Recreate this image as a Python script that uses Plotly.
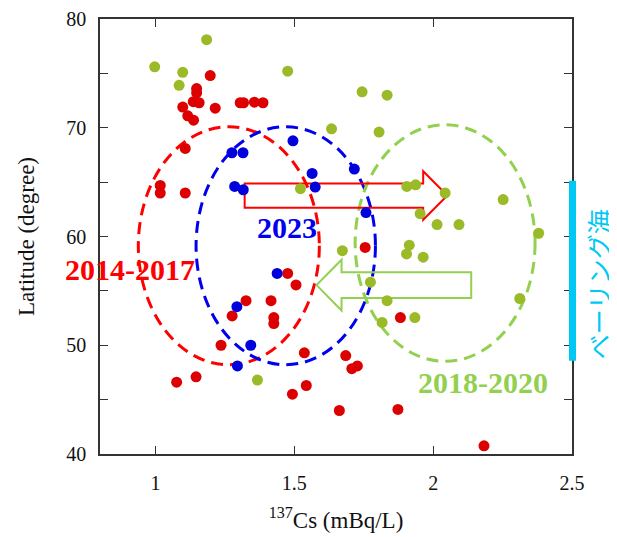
import plotly.graph_objects as go

# ---- data ----
red_x = [1.197, 1.148, 1.148, 1.136, 1.157, 1.098, 1.116, 1.137, 1.215, 1.305, 1.317, 1.356, 1.387,
         1.107, 1.017, 1.017, 1.107, 1.476, 1.506, 1.326, 1.416, 1.276, 1.426, 1.426, 1.236, 1.536,
         1.076, 1.146, 1.493, 1.543, 1.662, 1.755, 1.882, 1.685, 1.707, 1.727, 1.873, 2.183]
red_y = [74.8, 73.6, 73.2, 72.4, 72.3, 71.9, 71.1, 70.7, 71.8, 72.3, 72.3, 72.35, 72.3,
         68.1, 64.7, 64.0, 64.0, 56.6, 55.55, 54.1, 54.1, 52.7, 52.55, 52.0, 50.0, 49.3,
         46.6, 47.1, 45.5, 46.3, 44.0, 59.0, 52.55, 49.05, 47.85, 48.1, 44.1, 40.75]

blue_x = [1.495, 1.275, 1.315, 1.564, 1.285, 1.316, 1.575, 1.716, 1.758, 1.438, 1.293, 1.343, 1.295]
blue_y = [68.8, 67.7, 67.7, 65.8, 64.6, 64.3, 64.55, 66.2, 62.2, 56.6, 53.55, 50.0, 48.1]

green_x = [0.997, 1.184, 1.098, 1.085, 1.476, 1.634, 1.522, 1.744, 1.834, 1.805, 1.905, 1.937,
           2.043, 2.252, 1.953, 2.014, 2.093, 2.38, 1.673, 1.914, 1.904, 1.964, 1.774, 1.834,
           2.312, 1.816, 1.934, 1.367]
green_y = [75.6, 78.1, 75.1, 73.9, 75.2, 69.9, 64.4, 73.3, 73.0, 69.6, 64.6, 64.75,
           64.0, 63.4, 62.1, 61.1, 61.1, 60.3, 58.7, 59.2, 58.4, 58.1, 55.8, 54.1,
           54.3, 52.1, 52.55, 46.8]

# group ellipses: centre x, centre y, half-width, half-height
ell_names = ["2014-2017", "2023", "2018-2020"]
ell_cx = [1.264, 1.469, 2.043]
ell_cy = [59.15, 59.15, 59.4]
ell_rx = [0.326, 0.323, 0.324]
ell_ry = [10.94, 10.94, 10.88]

# arrows: tail x, head-base x, tip x, centre y, shaft half-height, head half-height
arr_tail = [1.321, 2.137]
arr_base = [1.964, 1.670]
arr_tip = [2.051, 1.580]
arr_cy = [63.77, 55.53]
arr_sh = [1.115, 1.175]
arr_hh = [2.23, 2.33]

# label positions (data coordinates)
lab_x = [0.908, 1.474, 2.181]
lab_y = [56.95, 60.81, 46.56]

bering_label = "ベーリング海"
bering_y0, bering_y1 = 48.57, 65.13

x_ticks = [1, 1.5, 2, 2.5]
x_ticktext = ["1", "1.5", "2", "2.5"]
y_ticks = [40, 50, 60, 70, 80]
y_ticktext = ["40", "50", "60", "70", "80"]
y_minor_step = 5

# ---- styles ----
RED_PT = "#dd0000"
BLUE_PT = "#0000dd"
GREEN_PT = "#9aba28"
RED = "#ff0000"
BLUE = "#0000ee"
LGREEN = "#92d050"
CYAN = "#00c8f5"
SERIF = "Liberation Serif"

fig = go.Figure()
for xs, ys, c, nm in [(green_x, green_y, GREEN_PT, "2018-2020"),
                      (red_x, red_y, RED_PT, "2014-2017"),
                      (blue_x, blue_y, BLUE_PT, "2023")]:
    fig.add_trace(go.Scatter(x=xs, y=ys, mode="markers", name=nm,
                             marker=dict(size=11, color=c, line=dict(width=0))))

ell_colors = [RED, BLUE, LGREEN]
for cx, cy, rx, ry, col in zip(ell_cx, ell_cy, ell_rx, ell_ry, ell_colors):
    fig.add_shape(type="circle", xref="x", yref="y",
                  x0=cx - rx, x1=cx + rx, y0=cy - ry, y1=cy + ry,
                  line=dict(color=col, width=3, dash="12px,7px"), layer="below")

arr_colors = [RED, LGREEN]
for t, b, tp, cy, sh, hh, col in zip(arr_tail, arr_base, arr_tip, arr_cy, arr_sh, arr_hh, arr_colors):
    path = (f"M {t},{cy+sh} L {b},{cy+sh} L {b},{cy+hh} L {tp},{cy} "
            f"L {b},{cy-hh} L {b},{cy-sh} L {t},{cy-sh} Z")
    fig.add_shape(type="path", xref="x", yref="y", path=path,
                  line=dict(color=col, width=2), fillcolor="rgba(0,0,0,0)", layer="below")

lab_colors = [RED, BLUE, LGREEN]
for nm, lx, ly, col in zip(ell_names, lab_x, lab_y, lab_colors):
    fig.add_annotation(x=lx, y=ly, xref="x", yref="y", text=f"<b>{nm}</b>", showarrow=False,
                       xanchor="center", yanchor="middle",
                       font=dict(family=SERIF, size=30, color=col))

# Bering Sea bar and label
fig.add_shape(type="rect", xref="paper", yref="y", x0=0.9936, x1=1.0085,
              y0=bering_y0, y1=bering_y1, fillcolor=CYAN, line=dict(width=0))
fig.add_annotation(xref="paper", yref="y", x=1.055, y=55.6,
                   xanchor="center", yanchor="middle",
                   text=bering_label, textangle=-90, showarrow=False,
                   font=dict(family="Noto Sans CJK JP", size=25, color=CYAN))

axis_common = dict(showline=True, linecolor="#333", linewidth=1.5, mirror="allticks",
                   ticks="inside", ticklen=8, tickcolor="#333", tickwidth=1,
                   showgrid=False, zeroline=False, automargin=False,
                   tickfont=dict(family=SERIF, size=20, color="#111"))

# the page body adds an 8px offset, so the figure is 8px smaller and margins shifted
fig.update_layout(
    width=609, height=529,
    margin=dict(l=92, r=45, t=11, b=83),
    paper_bgcolor="white", plot_bgcolor="white",
    showlegend=False,
    xaxis=dict(range=[0.8, 2.5], tickvals=x_ticks, ticktext=x_ticktext,
               ticklabelstandoff=10,
               title=dict(text="<sup>137</sup>Cs (mBq/L)", standoff=19,
                          font=dict(family=SERIF, size=23, color="#111")),
               **axis_common),
    yaxis=dict(range=[40, 80], tickvals=y_ticks, ticktext=y_ticktext,
               ticklabelstandoff=8,
               minor=dict(dtick=y_minor_step, ticks="inside", ticklen=8,
                          tickcolor="#333", tickwidth=1, showgrid=False),
               title=dict(text="Latitude (degree)", standoff=25,
                          font=dict(family=SERIF, size=23, color="#111")),
               **axis_common),
)

fig.write_html("out.html")
